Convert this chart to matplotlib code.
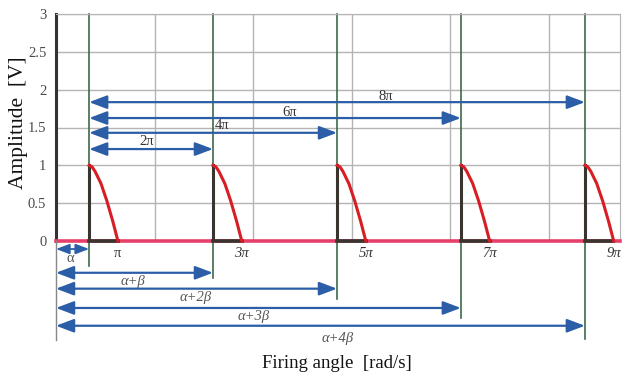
import matplotlib
matplotlib.use("Agg")
import matplotlib.pyplot as plt

# ---- data (radians / volts) ----
firing_angles = [1.68, 7.96, 14.25, 20.53, 26.82]
extinction_angles = [3.14, 9.42, 15.71, 21.99, 28.27]
extinction_labels = ['π', '3π', '5π', '7π', '9π']
pulse_dx = [0.0, 0.15, 0.3, 0.6, 0.9, 1.2, 1.46]
pulse_amp = [1.0, 0.98, 0.92, 0.76, 0.53, 0.26, 0.0]
period_labels = ['2π', '4π', '6π', '8π']
delay_labels = ['α', 'α+β', 'α+2β', 'α+3β', 'α+4β']
yticks = [0, 0.5, 1, 1.5, 2, 2.5, 3]
ytick_labels = ['0', '0.5', '1', '1.5', '2', '2.5', '3']
grid_x = [5, 10, 15, 20, 25]

# ---- layout ----
period_arrow_y = [1.215, 1.43, 1.625, 1.835]
period_label_pos = [(4.62, 1.31), (8.43, 1.52), (11.83, 1.70), (16.7, 1.915)]
delay_arrow_y = [-0.106, -0.42, -0.63, -0.885, -1.12]
delay_label_pos = [(0.71, -0.23), (3.9, -0.54), (7.1, -0.75), (10.0, -1.0), (14.3, -1.29)]
marker_bottom = [-0.33, -0.49, -0.77, -1.02, -1.29]

SERIF = ['Liberation Serif', 'DejaVu Serif']
BLUE = '#2b5ea7'
GREEN = '#3d6b48'
PINK = '#e6406a'
RED = '#d81e25'
DARK = '#3a342e'

fig = plt.figure(figsize=(6.26, 3.76), dpi=100)
ax = fig.add_axes([56/626, 1-241/376, (620-56)/626, (241-14)/376])
ax.set_xlim(0, 28.6)
ax.set_ylim(0, 3)

ax.set_xticks(grid_x)
ax.set_xticklabels([])
ax.set_yticks(yticks)
ax.set_yticklabels(ytick_labels, family=SERIF, fontsize=10.5, color='#4a4a4a')
ax.tick_params(length=0, pad=7)
ax.grid(True, color='#b4b4b4', lw=1.0)
for s in ['top', 'right']:
    ax.spines[s].set_color('#b4b4b4')
ax.spines['bottom'].set_visible(False)
ax.spines['left'].set_color('#333333')
ax.spines['left'].set_linewidth(2.2)

# baseline (output waveform zero level)
ax.plot([0, 28.6], [0, 0], color=PINK, lw=2.6, clip_on=False, zorder=3)

# left reference line below axis
ax.plot([0, 0], [0, -1.31], color='#888888', lw=1.0, clip_on=False, zorder=3)

for i, (fa, ea) in enumerate(zip(firing_angles, extinction_angles)):
    # dark conduction segment and vertical jump
    ax.plot([fa, ea], [0, 0], color=DARK, lw=2.6, clip_on=False, zorder=4)
    ax.plot([fa, fa], [0, 1], color=DARK, lw=2.2, zorder=4)
    # pulse
    ax.plot([fa + d for d in pulse_dx], pulse_amp, color=RED, lw=2.2, zorder=5, clip_on=False)
    # green marker line
    ax.plot([fa, fa], [3, marker_bottom[i]], color=GREEN, lw=1.2, clip_on=False, zorder=2)
    # extinction label
    ax.text(ea, -0.16, extinction_labels[i], family=SERIF, fontsize=10.5,
            style='normal' if i == 0 else 'italic', ha='center', va='center', color='#333333')

arrow_kw = dict(arrowstyle='<|-|>,head_length=0.9,head_width=0.34', color=BLUE, lw=1.6,
                shrinkA=0, shrinkB=0, mutation_scale=12)

# period arrows (above)
for k, lab in enumerate(period_labels):
    y = period_arrow_y[k]
    ax.annotate('', xy=(firing_angles[k + 1], y), xytext=(firing_angles[0], y),
                arrowprops=arrow_kw, annotation_clip=False, zorder=6)
    px, py = period_label_pos[k]
    ax.text(px, py, lab, family=SERIF, fontsize=10.5, ha='center', va='center', color='#333333')

# delay arrows (below)
for k, lab in enumerate(delay_labels):
    y = delay_arrow_y[k]
    kw = dict(arrow_kw)
    if k == 0:
        kw['mutation_scale'] = 9
        kw['lw'] = 1.3
    ax.annotate('', xy=(firing_angles[k], y), xytext=(0, y),
                arrowprops=kw, annotation_clip=False, zorder=6)
    lx, ly = delay_label_pos[k]
    ax.text(lx, ly, lab, family=SERIF, fontsize=10.5, ha='center', va='center',
            style='normal' if k == 0 else 'italic', color='#555555')

fig.text(19/626, 1-123/376, 'Amplitude  [V]', family=SERIF, fontsize=15.5,
         rotation=90, ha='center', va='center', color='#111111')
fig.text(337/626, 1-364/376, 'Firing angle  [rad/s]', family=SERIF, fontsize=13.5,
         ha='center', va='center', color='#111111')

fig.savefig('out.png', dpi=100)
